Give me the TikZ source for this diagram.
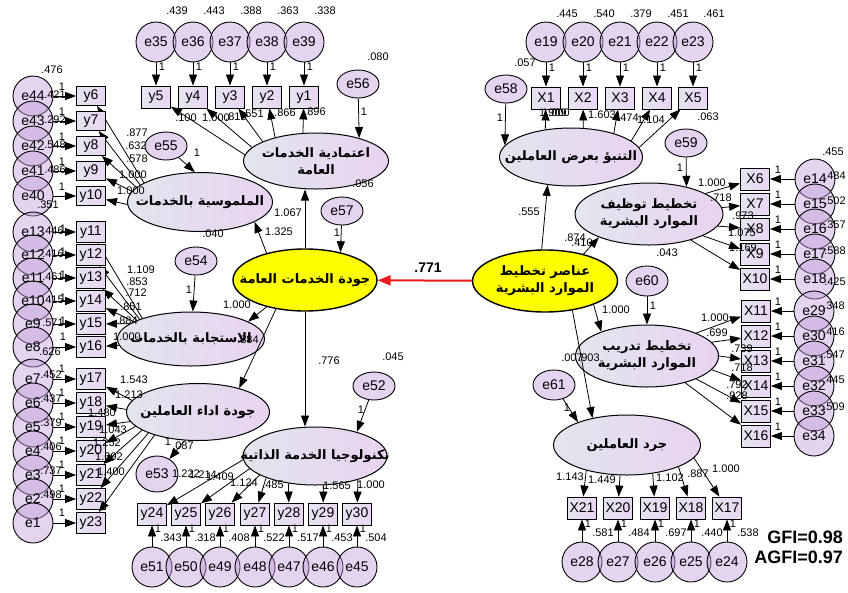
\documentclass[tikz,border=0pt]{standalone}
\usepackage{fontspec}
\setmainfont{Liberation Sans}
\newfontfamily\arabicfont[Script=Arabic]{DejaVu Sans}
\TeXXeTstate=1
\usetikzlibrary{shapes.geometric,arrows.meta}

\definecolor{latL}{RGB}{226,229,238}
\definecolor{latR}{RGB}{233,211,240}
\definecolor{errF}{RGB}{196,160,222}
\definecolor{boxL}{RGB}{230,228,240}
\definecolor{boxR}{RGB}{232,214,242}
\definecolor{hyel}{RGB}{255,255,0}
\definecolor{redarr}{RGB}{235,25,25}

\newcommand\rtl[1]{\beginR#1\endR}

\tikzset{
  errc/.style={ellipse, draw, line width=0.9pt, fill=errF, fill opacity=0.45,
    text opacity=1, minimum width=40pt, minimum height=40pt, inner sep=0pt,
    font=\fontsize{14}{14}\selectfont},
  errs/.style={errc, minimum width=42pt, minimum height=28pt},
  obs/.style={rectangle, draw, line width=0.9pt, left color=boxL, right color=boxR,
    minimum width=29pt, minimum height=22pt, inner sep=0pt,
    font=\fontsize{14}{14}\selectfont},
  obsn/.style={obs, minimum height=19pt},
  obsm/.style={obs, minimum height=21pt},
  lat/.style={ellipse, draw, line width=1pt, left color=latL, right color=latR,
    minimum width=145pt, minimum height=58pt, inner sep=0pt},
  yel/.style={ellipse, draw, line width=1.4pt, fill=hyel,
    minimum width=145pt, minimum height=62pt, inner sep=0pt},
  albl/.style={align=center, font=\arabicfont\bfseries\fontsize{13}{17}\selectfont},
  num/.style={inner sep=0pt, font=\fontsize{11}{11}\selectfont},
  arr/.style={-{Triangle[length=11pt,width=8pt]}, line width=0.8pt},
  redline/.style={-{Triangle[length=13pt,width=10pt]}, line width=2pt, draw=redarr, fill=redarr},
  fit/.style={inner sep=0pt, anchor=east, font=\bfseries\fontsize{18}{18}\selectfont}
}

\begin{document}
\begin{tikzpicture}[x=1pt,y=-1pt]
\useasboundingbox (0,0) rectangle (848,592);
\fill[white] (0,0) rectangle (848,592);

% ---------- latent variables ----------
\node[lat, minimum width=145pt, minimum height=56pt] (L1) at (316,161) {};
  \node[albl] (tL1) at (L1) {\rtl{اعتمادية الخدمات}\\\rtl{العامة}};
\node[lat, minimum height=59pt] (L2) at (200,202) {};
  \node[albl] (tL2) at (L2) {\rtl{الملموسية بالخدمات}};
\node[lat, minimum width=147pt, minimum height=54pt] (L3) at (191,339) {};
  \node[albl] (tL3) at (L3) {\rtl{الاستجابة بالخدمات}};
\node[lat, minimum width=143pt, minimum height=57pt] (L4) at (198,412) {};
  \node[albl] (tL4) at (L4) {\rtl{جودة اداء العاملين}};
\node[lat, minimum width=144pt, minimum height=58pt] (T) at (315,456) {};
  \node[albl] (tT) at (T) {\rtl{تكنولوجيا الخدمة الذاتية}};
\node[yel, minimum width=144pt] (Y1) at (305,280) {};
  \node[albl] (tY1) at (Y1) {\rtl{جودة الخدمات العامة}};

\node[lat, minimum width=143pt] (P) at (571,157) {};
  \node[albl] (tP) at (P) {\rtl{التنبؤ بعرض العاملين}};
\node[yel] (H) at (545,281) {};
  \node[albl] (tH) at (H) {\rtl{عناصر تخطيط}\\\rtl{الموارد البشرية}};
\node[lat, minimum width=148pt, minimum height=62pt] (E) at (649,214) {};
  \node[albl] (tE) at (E) {\rtl{تخطيط توظيف}\\\rtl{الموارد البشرية}};
\node[lat, minimum width=143pt, minimum height=62pt] (D) at (647,356) {};
  \node[albl] (tD) at (D) {\rtl{تخطيط تدريب}\\\rtl{الموارد البشرية}};
\node[lat, minimum width=147pt, minimum height=60pt] (G) at (627,445) {};
  \node[albl] (tG) at (G) {\rtl{جرد العاملين}};

% ---------- structural residuals ----------
\node[errs] (e56) at (358,84) {e56};
\node[num] (ve56) at (378,57) {.080};
\node[num] (oe56) at (364,112) {1};
\draw[arr] (e56) -- (L1.28);

\node[errs] (e55) at (166,146) {e55};
\node[num] (oe55) at (197,153) {1};
\draw[arr] (e55) -- (L2.100);

\node[errs] (e54) at (196,261) {e54};
\node[num] (ve54) at (213,234) {.040};
\node[num] (oe54) at (189,290) {1};
\draw[arr] (e54) -- (L3);

\node[errs, minimum height=36pt] (e53) at (157,474) {e53};
\node[num] (oe53) at (168,442) {1};
\node[num] (ve53) at (183,446) {.087};
\draw[arr] (L4.-115) -- (e53);

\node[errs] (e57) at (342,211) {e57};
\node[num] (ve57) at (363,184) {.056};
\node[num] (oe57) at (337,233) {1};
\draw[arr] (e57) -- (Y1.38);

\node[errs] (e52) at (374,386) {e52};
\node[num] (ve52) at (393,357) {.045};
\node[num] (oe52) at (361,410) {1};
\draw[arr] (e52) -- (T.30);

\node[errs] (e58) at (506,89) {e58};
\node[num] (ve58) at (525,63) {.057};
\node[num] (oe58) at (500,118) {1};
\draw[arr] (e58) -- (P.170);

\node[errs] (e59) at (686,143) {e59};
\node[num] (oe59) at (680,168) {1};
\draw[arr] (e59) -- (E.36);

\node[errs, minimum height=30pt] (e60) at (647,281) {e60};
\node[num] (ve60) at (667,253) {.043};
\node[num] (oe60) at (653,306) {1};
\draw[arr] (e60) -- (D);

\node[errs, minimum height=30pt] (e61) at (554,385) {e61};
\node[num] (oe61) at (567,408) {1};
\draw[arr] (e61) -- (G.155);

% ---------- structural paths ----------
\draw[arr] (Y1.north) -- (Y1.north |- L1.south);
\node[num] (p1) at (288,213) {1.067};
\draw[arr] (Y1.145) -- (L2.-20);
\node[num] (p2) at (279,232) {1.325};
\draw[arr] (Y1.215) -- (L3.17);
\node[num] (p3) at (237,305) {1.000};
\draw[arr] (Y1.225) -- (L4.30);
\node[num] (p4) at (248,340) {.884};
\draw[arr] (Y1.south) -- (Y1.south |- T.north);
\node[num] (p5) at (329,361) {.776};

\draw[redline] (H) -- (Y1);
\node[inner sep=0pt, font=\bfseries\fontsize{14}{14}\selectfont] (p0) at (428,268) {.771};

\draw[arr] (H.96) -- (P.230);
\node[num] (q1) at (529,212) {.555};
\draw[arr] (H.35) -- (E.205);
\node[num] (q2) at (575,238) {.874};
\node[num] (q2b) at (582,243) {.410};
\draw[arr] (H.-26) -- (D.152);
\node[num] (q3) at (616,310) {1.000};
\draw[arr] (H.-47) -- (G.142);
\node[num] (q4) at (572,358) {.007};
\node[num] (q4b) at (589,358) {.903};

% ---------- top-left indicators (y1-y5) ----------
\foreach \en/\b/\x/\v/\a in {35/5/156/.439/175,36/4/193/.443/168,37/3/230/.388/160,38/2/267/.363/150,39/1/304/.338/115}{
  \node[errc] (e\en) at (\x,42) {e\en};
  \node[num] (ve\en) at (\x+21,11) {\v};
  \node[obs] (y\b) at (\x,97) {y\b};
  \node[num] (oe\en) at (\x+6,67) {1};
  \draw[arr] (e\en) -- (y\b);
  \draw[arr] (L1.\a) -- (y\b);
}
\node[num] (l1a) at (186,118) {.100};
\node[num] (l1b) at (216,118) {1.000};
\node[num] (l1c) at (236,117) {.815};
\node[num] (l1d) at (253,114) {.551};
\node[num] (l1e) at (285,113) {.866};
\node[num] (l1f) at (315,112) {.896};

% ---------- left indicators y6-y10 ----------
\foreach \en/\b/\y/\v/\vx/\vy/\a in {44/6/96/.421/55/95/161,43/7/121/.292/55/120/164,42/8/146/.548/55/145/167,41/9/171/.486/55/170/171,40/10/196/.351/48/205/182}{
  \node[errc] (e\en) at (33,\y) {e\en};
  \node[obsn] (y\b) at (91,\y) {y\b};
  \node[num] (ve\en) at (\vx,\vy) {\v};
  \node[num] (oe\en) at (62,\y-9) {1};
  \draw[arr] (e\en) -- (y\b);
  \draw[arr] (L2.\a) -- (y\b);
}
\node[num] (ve44b) at (52,70) {.476};
\node[num] (l2a) at (137,133) {.877};
\node[num] (l2b) at (136,146) {.632};
\node[num] (l2c) at (137,159) {.578};
\node[num] (l2d) at (133,175) {1.000};
\node[num] (l2e) at (131,191) {1.000};

% ---------- left indicators y11-y16 ----------
\foreach \en/\b/\y/\v/\vx/\vy/\oy/\a in {13/11/232/.446/53/231/229/157,12/12/255/.416/53/254/252/159,11/13/278/.461/53/277/275/161,10/14/301/.415/53/300/298/163,9/15/324/.571/53/323/321/166,8/16/347/.626/50/352/337/185}{
  \node[errc] (e\en) at (33,\y) {e\en};
  \node[obsm] (y\b) at (91,\y) {y\b};
  \node[num] (ve\en) at (\vx,\vy) {\v};
  \node[num] (oe\en) at (63,\oy) {1};
  \draw[arr] (e\en) -- (y\b);
  \draw[arr] (L3.\a) -- (y\b);
}
\node[num] (l3a) at (141,270) {1.109};
\node[num] (l3b) at (137,282) {.853};
\node[num] (l3c) at (136,293) {.712};
\node[num] (l3d) at (131,307) {.851};
\node[num] (l3e) at (127,321) {.884};
\node[num] (l3f) at (127,337) {1.000};

% ---------- left indicators y17-y23 ----------
\foreach \en/\b/\y/\a in {7/17/379/170,6/18/403/178,5/19/427/188,4/20/451/193,3/21/475/198,2/22/499/203,1/23/523/208}{
  \node[errc] (e\en) at (33,\y) {e\en};
  \node[obsm] (y\b) at (91,\y) {y\b};
  \node[num] (oe\en) at (62,\y-10) {1};
  \draw[arr] (e\en) -- (y\b);
  \draw[arr] (L4.\a) -- (y\b);
}
\foreach \en/\y/\v in {7/379/.452,6/403/.437,5/427/.379,4/451/.406,3/475/.737,2/499/.498}{
  \node[num] (ve\en) at (51,\y-4) {\v};
}
\node[num] (l4a) at (134,380) {1.543};
\node[num] (l4b) at (129,395) {1.213};
\node[num] (l4c) at (102,413) {1.480};
\node[num] (l4d) at (113,430) {1.043};
\node[num] (l4e) at (107,443) {1.252};
\node[num] (l4f) at (109,457) {1.692};
\node[num] (l4g) at (111,472) {1.400};

% ---------- bottom indicators y24-y30 ----------
\foreach \en/\b/\x/\v/\a in {51/24/152/.343/183,50/25/186/.318/191,49/26/220/.408/199,48/27/255/.522/204,47/28/289/.517/226,46/29/323/.453/286,45/30/357/.504/331}{
  \node[errc] (e\en) at (\x,567) {e\en};
  \node[obs] (y\b) at (\x,514) {y\b};
  \node[num] (oe\en) at (\x+6,529) {1};
  \node[num] (ve\en) at (\x+19,538) {\v};
  \draw[arr] (e\en) -- (y\b);
  \draw[arr] (T.\a) -- (y\b);
}
\node[num] (l5a) at (186,474) {1.222};
\node[num] (l5b) at (203,475) {1.214};
\node[num] (l5c) at (220,477) {1.409};
\node[num] (l5d) at (244,483) {1.124};
\node[num] (l5e) at (273,485) {.485};
\node[num] (l5f) at (337,486) {1.565};
\node[num] (l5g) at (371,485) {1.000};

% ---------- top-right indicators X1-X5 ----------
\foreach \en/\b/\x/\v/\a in {19/1/546/.445/133,20/2/583/.540/67,21/3/620/.379/29,22/4/657/.451/15,23/5/693/.461/8}{
  \node[errc] (e\en) at (\x,42) {e\en};
  \node[num] (ve\en) at (\x+21,14) {\v};
  \node[obs] (X\b) at (\x,98) {X\b};
  \node[num] (oe\en) at (\x+6,68) {1};
  \draw[arr] (e\en) -- (X\b);
  \draw[arr] (P.\a) -- (X\b);
}
\node[num] (r1a) at (553,113) {1.909};
\node[num] (r1b) at (556,113) {1.000};
\node[num] (r1c) at (602,115) {1.603};
\node[num] (r1d) at (628,118) {.474};
\node[num] (r1e) at (651,120) {1.104};
\node[num] (r1f) at (708,117) {.063};

% ---------- right indicators X6-X10 ----------
\foreach \en/\b/\y/\v/\vy/\a in {14/6/179/.484/176/20,15/7/204/.502/201/5,16/8/229/.357/225/-10,17/9/254/.588/251/-22,18/10/279/.425/282/-32}{
  \node[errc] (e\en) at (815,\y) {e\en};
  \node[obs] (X\b) at (755,\y) {X\b};
  \node[num] (ve\en) at (835,\vy) {\v};
  \node[num] (oe\en) at (778,\y-9) {1};
  \draw[arr] (e\en) -- (X\b);
  \draw[arr] (E.\a) -- (X\b);
}
\node[num] (ve14b) at (833,152) {.455};
\node[num] (r2a) at (712,183) {1.000};
\node[num] (r2b) at (721,198) {.718};
\node[num] (r2c) at (743,216) {.973};
\node[num] (r2d) at (742,233) {1.075};
\node[num] (r2e) at (743,248) {1.169};

% ---------- right indicators X11-X16 ----------
\foreach \en/\b/\y/\a in {29/11/311/25,30/12/336/12,31/13/361/0,32/14/386/-12,33/15/411/-25,34/16/436/-35}{
  \node[errc] (e\en) at (814,\y) {e\en};
  \node[obs] (X\b) at (756,\y) {X\b};
  \node[num] (oe\en) at (778,\y-9) {1};
  \draw[arr] (e\en) -- (X\b);
  \draw[arr] (D.\a) -- (X\b);
}
\foreach \en/\y/\v in {29/306/.348,30/332/.416,31/355/.547,32/380/.445,33/407/.509}{
  \node[num] (ve\en) at (834,\y) {\v};
}
\node[num] (r3a) at (715,318) {1.000};
\node[num] (r3b) at (717,333) {.699};
\node[num] (r3c) at (742,349) {.739};
\node[num] (r3d) at (742,368) {.718};
\node[num] (r3e) at (737,385) {.792};
\node[num] (r3f) at (737,396) {.928};

% ---------- bottom-right indicators X17-X21 ----------
\foreach \en/\b/\x/\v/\a in {28/21/582/.581/212,27/20/618/.484/257,26/19/655/.697/312,25/18/691/.440/337,24/17/727/.538/349}{
  \node[errc] (e\en) at (\x,562) {e\en};
  \node[obs] (X\b) at (\x,508) {X\b};
  \node[num] (oe\en) at (\x+6,524) {1};
  \node[num] (ve\en) at (\x+21,533) {\v};
  \draw[arr] (e\en) -- (X\b);
  \draw[arr] (G.\a) -- (X\b);
}
\node[num] (r4a) at (570,477) {1.143};
\node[num] (r4b) at (602,480) {1.449};
\node[num] (r4c) at (670,478) {1.102};
\node[num] (r4d) at (698,474) {.887};
\node[num] (r4e) at (726,469) {1.000};

% ---------- fit indices ----------
\node[fit] (gfi) at (843,537) {GFI=0.98};
\node[fit] (agfi) at (843,557) {AGFI=0.97};
\end{tikzpicture}
\end{document}
